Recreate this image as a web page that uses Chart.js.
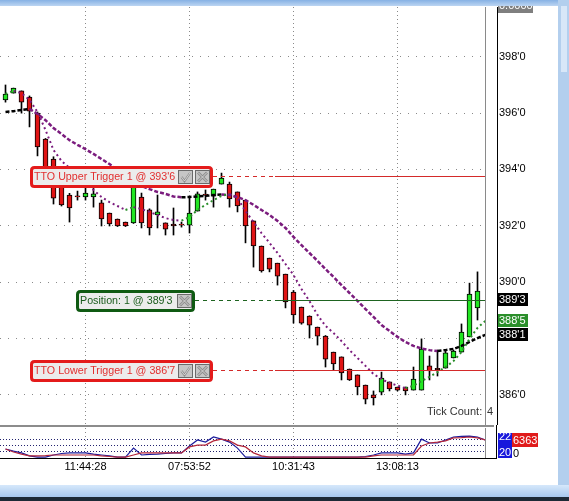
<!DOCTYPE html>
<html><head><meta charset="utf-8">
<script src="https://cdn.jsdelivr.net/npm/chart.js@4/dist/chart.umd.min.js"></script>
<style>
html,body{margin:0;padding:0;background:#fff;width:569px;height:501px;overflow:hidden;position:relative}
#c1{position:absolute;left:0;top:0}
#c2{position:absolute;left:0;top:425px}
.topbar{position:absolute;left:0;top:0;width:569px;height:6px;background:linear-gradient(#86b1e4,#bcd5f2)}
.rightbar{position:absolute;left:558px;top:0;width:11px;height:501px;background:#b3cfee}
.thumb{position:absolute;left:561px;top:6px;width:6px;height:66px;background:#d8e7f8}
.botbar{position:absolute;left:0;top:485px;width:569px;height:12px;background:linear-gradient(#d6e8fb,#a7c8ee)}
.botline{position:absolute;left:0;top:497px;width:569px;height:4px;background:#1d2a36}
</style></head><body>
<canvas id="c1" width="569" height="430"></canvas>
<canvas id="c2" width="569" height="60"></canvas>
<div class="topbar"></div><div class="rightbar"></div><div class="thumb"></div>
<div class="botbar"></div><div class="botline"></div>
<script>
// ---- data ----
const open  = [396.47,396.71,396.79,396.57,396.00,395.08,394.37,393.55,393.09,393.06,393.02,393.02,392.81,392.45,392.24,392.13,392.10,393.02,392.56,392.38,392.10,392.06,392.06,392.02,392.52,393.12,393.05,393.48,393.48,393.20,392.91,392.17,391.28,390.85,390.67,390.28,389.64,389.11,388.79,388.40,388.08,387.51,387.34,386.91,386.70,386.34,385.99,386.09,386.45,386.27,386.27,386.16,386.16,387.02,386.93,386.94,387.30,387.51,388.05,389.08];
const high  = [397.00,396.89,396.79,396.61,396.04,395.10,394.45,393.60,393.15,393.23,393.34,393.34,392.91,392.45,392.24,392.13,393.65,393.16,392.60,393.09,392.10,392.63,392.13,393.02,393.20,393.27,393.30,393.87,393.55,393.20,392.91,392.17,391.28,390.85,390.67,390.28,389.70,389.11,388.80,388.40,388.10,387.51,387.34,386.91,386.70,386.34,386.13,386.80,386.45,386.27,386.27,386.98,387.98,387.37,387.58,387.58,387.58,388.51,389.96,390.36];
const low   = [396.39,396.71,396.00,395.51,394.48,393.60,392.77,392.70,392.13,392.91,392.91,392.66,391.99,391.99,391.97,391.97,392.08,391.92,391.67,391.92,391.67,391.67,391.95,391.74,392.52,392.91,392.66,393.48,392.66,392.49,391.39,390.53,390.35,390.36,389.89,389.08,388.54,388.50,388.01,387.76,386.98,386.87,386.52,386.50,385.99,385.67,385.63,385.99,386.13,386.13,385.99,386.16,386.16,386.52,386.66,386.94,387.30,387.51,388.05,388.65];
const close = [396.68,396.89,396.39,396.07,394.80,393.69,392.98,392.74,392.63,393.02,393.16,393.13,392.24,392.06,391.99,391.99,393.62,392.10,391.92,392.49,391.88,391.99,392.02,392.45,393.13,393.08,393.30,393.69,392.95,392.70,391.99,391.28,390.39,390.46,390.21,389.29,388.83,388.54,388.47,388.08,387.26,387.09,386.77,386.52,386.27,385.84,385.88,386.59,386.20,386.16,386.13,386.55,387.62,386.84,386.89,387.48,387.55,388.22,389.57,389.68];
// slow (thick dashed) and fast (dotted) averages, one value per bar plus the live value
const slowMA = [396.04,396.07,396.11,396.15,395.97,395.75,395.47,395.26,395.04,394.87,394.72,394.55,394.37,394.19,393.98,393.77,393.59,393.41,393.30,393.20,393.13,393.04,393.01,393.02,393.04,393.06,393.09,393.11,393.09,393.02,392.91,392.74,392.56,392.38,392.17,391.92,391.60,391.31,391.03,390.75,390.46,390.18,389.89,389.61,389.33,389.04,388.76,388.47,388.26,388.05,387.87,387.73,387.64,387.58,387.55,387.58,387.62,387.73,387.87,388.01,388.125];
const fastMA = [396.68,396.79,396.71,396.47,396.04,395.40,394.69,394.30,394.05,393.80,393.55,393.27,393.02,392.84,392.70,392.56,392.66,392.59,392.49,392.38,392.27,392.20,392.18,392.31,392.56,392.74,392.91,393.06,393.13,392.98,392.52,392.13,391.74,391.39,391.03,390.64,390.25,389.75,389.32,388.83,388.44,388.19,387.90,387.58,387.30,387.02,386.73,386.55,386.41,386.32,386.23,386.31,386.48,386.63,386.80,386.98,387.19,387.51,387.98,388.37,388.625];
// lower panel indicator (two lines)
const indBlue = [27,20,14,4,0,0,7,12,14,14,14,10,7,4,0,0,30,7,9,10,12,14,14,37,57,50,67,60,50,30,0,0,0,0,0,0,0,0,0,0,0,0,0,0,0,2,7,14,14,14,10,14,60,47,47,57,67,69,70,67,57];
const indRed  = [27,17,10,4,4,5,7,7,7,7,7,7,4,2,0,0,7,14,14,14,14,14,14,34,40,40,54,60,54,40,34,14,4,0,0,0,0,0,0,0,0,0,0,0,0,0,4,7,7,7,7,7,37,47,50,54,64,65,67,64,57];
const timeIdx    = [10, 23, 36, 49];
const timeLabels = ['11:44:28', '07:53:52', '10:31:43', '13:08:13'];
const indLevels  = [20, 40, 60];
const upperTrigger = 393.75, positionPrice = 389.375, lowerTrigger = 386.875, positionQty = 1;
const orderTimeIdx = 33.7;
const tickCount = 4;
const indValueLabels = ['22', '20'];
const volumeLabel = '6363';

// ---- helpers ----
const FONT = '"Liberation Sans", Arial, sans-serif';
const GREEN = '#22e622', RED = '#e01414', PURPLE = '#7b1c7e', DGREEN = '#2b8f2b';
const fmt8 = v => { const w = Math.floor(v + 1e-6); const e = Math.round((v - w) * 8); return w + "'" + e; };
const X_MIN = -0.6875, X_MAX = 59.9375;
Chart.defaults.font.family = FONT;
Chart.defaults.font.size = 11;
Chart.defaults.color = '#000';

function rr(ctx, x, y, w, h, r) {
  ctx.beginPath();
  ctx.moveTo(x + r, y); ctx.lineTo(x + w - r, y); ctx.quadraticCurveTo(x + w, y, x + w, y + r);
  ctx.lineTo(x + w, y + h - r); ctx.quadraticCurveTo(x + w, y + h, x + w - r, y + h);
  ctx.lineTo(x + r, y + h); ctx.quadraticCurveTo(x, y + h, x, y + h - r);
  ctx.lineTo(x, y + r); ctx.quadraticCurveTo(x, y, x + r, y); ctx.closePath();
}
function btn(ctx, x, y) {
  ctx.fillStyle = '#c6c6c6'; ctx.fillRect(x, y, 15, 14);
  ctx.strokeStyle = '#6a6a6a'; ctx.lineWidth = 1; ctx.strokeRect(x + 0.5, y + 0.5, 14, 13);
}
function checkBtn(ctx, x, y) {
  btn(ctx, x, y);
  ctx.strokeStyle = '#8c8c8c'; ctx.lineWidth = 2.2; ctx.beginPath();
  ctx.moveTo(x + 3.5, y + 7); ctx.lineTo(x + 6.5, y + 11); ctx.lineTo(x + 12, y + 3); ctx.stroke();
  ctx.strokeStyle = '#e4e4e4'; ctx.lineWidth = 0.8; ctx.stroke();
}
function xBtn(ctx, x, y) {
  btn(ctx, x, y);
  ctx.strokeStyle = '#8c8c8c'; ctx.lineWidth = 2.6; ctx.beginPath();
  ctx.moveTo(x + 3, y + 2.5); ctx.lineTo(x + 12, y + 11.5); ctx.moveTo(x + 12, y + 2.5); ctx.lineTo(x + 3, y + 11.5); ctx.stroke();
  ctx.strokeStyle = '#dcdcdc'; ctx.lineWidth = 0.9; ctx.stroke();
}
const orders = [
  { price: upperTrigger, text: 'TTO Upper Trigger 1 @ ' + fmt8(upperTrigger), left: 30, width: 183, border: '#e41b1b', color: '#e23030', line: '#d42a2a', check: true },
  { price: positionPrice, text: 'Position: ' + positionQty + ' @ ' + fmt8(positionPrice), left: 76, width: 119, border: '#0f5a12', color: '#1a5c1c', line: '#1e6420', check: false },
  { price: lowerTrigger, text: 'TTO Lower Trigger 1 @ ' + fmt8(lowerTrigger), left: 30, width: 183, border: '#e41b1b', color: '#e23030', line: '#d42a2a', check: true }
];

const overlay1 = {
  id: 'ov1',
  afterDraw(chart) {
    const { ctx, chartArea: a, scales: { x, y } } = chart;
    ctx.save();
    ctx.fillStyle = '#8c8c8c'; ctx.fillRect(0, a.bottom, 494, 2);
    ctx.fillStyle = '#000'; ctx.fillRect(497, a.top, 1, a.bottom - a.top);
    const xs = Math.round(x.getPixelForValue(orderTimeIdx));
    orders.forEach(o => {
      const py = Math.round(y.getPixelForValue(o.price)) + 0.5;
      ctx.lineWidth = 1; ctx.strokeStyle = o.line;
      ctx.setLineDash([4, 4]); ctx.beginPath(); ctx.moveTo(o.left + o.width, py); ctx.lineTo(xs, py); ctx.stroke();
      ctx.setLineDash([]); ctx.beginPath(); ctx.moveTo(xs, py); ctx.lineTo(a.right, py); ctx.stroke();
    });
    orders.forEach(o => {
      const py = Math.round(y.getPixelForValue(o.price));
      const top = py - 10, h = 22;
      ctx.fillStyle = '#ececec'; rr(ctx, o.left, top, o.width, h, 4); ctx.fill();
      ctx.lineWidth = 3; ctx.strokeStyle = o.border; rr(ctx, o.left + 1.5, top + 1.5, o.width - 3, h - 3, 3); ctx.stroke();
      ctx.font = '10.7px ' + FONT; ctx.fillStyle = o.color; ctx.textBaseline = 'middle'; ctx.textAlign = 'left';
      ctx.fillText(o.text, o.left + 4, py + 1);
      const bx = o.left + o.width - 18;
      xBtn(ctx, bx, top + 4);
      if (o.check) checkBtn(ctx, bx - 17, top + 4);
    });
    // right-axis value flags
    const flags = [
      { v: positionPrice, bg: '#000' },
      { v: fastMA[fastMA.length - 1], bg: DGREEN },
      { v: slowMA[slowMA.length - 1], bg: '#000' }
    ];
    ctx.font = '11px ' + FONT; ctx.textBaseline = 'middle'; ctx.textAlign = 'left';
    flags.forEach(f => {
      const t = Math.round(y.getPixelForValue(f.v) - 6.5);
      ctx.fillStyle = f.bg; ctx.fillRect(498, t, 30, 13);
      ctx.fillStyle = '#fff'; ctx.fillText(fmt8(f.v), 499, t + 7);
    });
    ctx.fillStyle = '#7f7f7f'; ctx.fillRect(498, 0, 35, 13);
    ctx.fillStyle = '#fff'; ctx.fillText('0.0000', 499, 6);
    ctx.fillStyle = '#333'; ctx.textBaseline = 'alphabetic';
    ctx.fillText('Tick Count:', 427, 415);
    ctx.fillText(String(tickCount), 487, 415);
    ctx.restore();
  }
};

new Chart(document.getElementById('c1'), {
  type: 'line',
  data: {
    datasets: [
      { type: 'bar', data: low.map((l, i) => ({ x: i, y: [l, high[i]] })), backgroundColor: '#000', borderWidth: 0, barThickness: 1, grouped: false, order: 3 },
      { type: 'bar', data: open.map((o, i) => ({ x: i, y: [o, close[i]] })),
        backgroundColor: c => close[c.dataIndex] >= open[c.dataIndex] ? GREEN : RED,
        borderColor: '#000', borderWidth: 1, borderSkipped: false, barThickness: 5, grouped: false, order: 2 },
      { type: 'line', data: slowMA.map((v, i) => ({ x: i, y: v })), borderWidth: 2.5, borderDash: [4, 2], pointRadius: 0, borderColor: PURPLE,
        segment: { borderColor: c => c.p1.parsed.y >= c.p0.parsed.y ? '#000' : PURPLE }, order: 1 },
      { type: 'line', data: fastMA.map((v, i) => ({ x: i, y: v })), borderWidth: 2, borderDash: [2, 3], pointRadius: 0, borderColor: PURPLE,
        segment: { borderColor: c => c.p1.parsed.y >= c.p0.parsed.y ? DGREEN : PURPLE }, order: 0 }
    ]
  },
  options: {
    responsive: false, animation: false, events: [],
    layout: { autoPadding: false, padding: { top: 7, bottom: 5, left: 0, right: 0 } },
    plugins: { legend: { display: false }, tooltip: { enabled: false } },
    scales: {
      x: { type: 'linear', min: X_MIN, max: X_MAX, offset: false,
        afterBuildTicks: s => { s.ticks = timeIdx.map(v => ({ value: v })); },
        afterFit: s => { s.height = 0; s.paddingLeft = 0; s.paddingRight = 0; },
        ticks: { display: false }, grid: { color: '#8a8a8a', drawTicks: false, offset: false },
        border: { display: false, dash: [1, 3] } },
      y: { position: 'right', min: 384.92, max: 399.77,
        afterFit: s => { s.width = 84; s.paddingTop = 0; s.paddingBottom = 0; },
        ticks: { stepSize: 2, includeBounds: false, padding: 14, callback: v => fmt8(v) },
        grid: { color: '#8a8a8a', drawTicks: false },
        border: { display: true, color: '#8a8a8a', dash: [1, 7] } }
    }
  },
  plugins: [overlay1]
});

const overlay2 = {
  id: 'ov2',
  afterDraw(chart) {
    const { ctx, chartArea: a } = chart;
    ctx.save();
    ctx.fillStyle = '#000';
    ctx.fillRect(0, a.bottom, 497, 1);
    ctx.fillRect(496, 0, 1, a.bottom);
    ctx.font = '11px ' + FONT; ctx.textBaseline = 'middle'; ctx.textAlign = 'left';
    ctx.fillStyle = '#1818dc'; ctx.fillRect(498, 8, 14, 25);
    ctx.save(); ctx.beginPath(); ctx.rect(498, 8, 14, 25); ctx.clip();
    ctx.fillStyle = '#fff';
    ctx.fillText(indValueLabels[0], 499, 12);
    ctx.fillText(indValueLabels[1], 499, 28);
    ctx.restore();
    ctx.fillStyle = '#e01b1b'; ctx.fillRect(512, 8, 26, 14);
    ctx.fillStyle = '#fff'; ctx.fillText(volumeLabel, 513, 15.5);
    ctx.fillStyle = '#000'; ctx.fillText('0', 513, 29);
    ctx.restore();
  }
};

new Chart(document.getElementById('c2'), {
  type: 'line',
  data: {
    datasets: [
      { data: indBlue.map((v, i) => ({ x: i, y: v })), borderColor: '#1c1c9c', borderWidth: 1.2, pointRadius: 0, order: 2 },
      { data: indRed.map((v, i) => ({ x: i, y: v })), borderColor: '#b3263a', borderWidth: 1.2, pointRadius: 0, order: 1 }
    ]
  },
  options: {
    responsive: false, animation: false, events: [],
    layout: { autoPadding: false, padding: { top: 3, bottom: 0, left: 0, right: 0 } },
    plugins: { legend: { display: false }, tooltip: { enabled: false } },
    scales: {
      x: { type: 'linear', min: X_MIN, max: X_MAX, offset: false,
        afterBuildTicks: s => { s.ticks = timeIdx.map(v => ({ value: v })); },
        afterFit: s => { s.height = 27; s.paddingLeft = 0; s.paddingRight = 0; },
        ticks: { padding: 2, autoSkip: false, maxRotation: 0, callback: v => timeLabels[timeIdx.indexOf(v)] },
        grid: { color: '#8a8a8a', drawTicks: false, offset: false },
        border: { display: false, dash: [1, 3] } },
      y: { position: 'right', min: -3, max: 97,
        afterBuildTicks: s => { s.ticks = indLevels.map(v => ({ value: v })); },
        afterFit: s => { s.width = 84; s.paddingTop = 0; s.paddingBottom = 0; },
        ticks: { display: false },
        grid: { color: '#22226e', drawTicks: false },
        border: { display: true, color: '#8a8a8a', dash: [1, 2] } }
    }
  },
  plugins: [overlay2]
});
</script>
</body></html>
